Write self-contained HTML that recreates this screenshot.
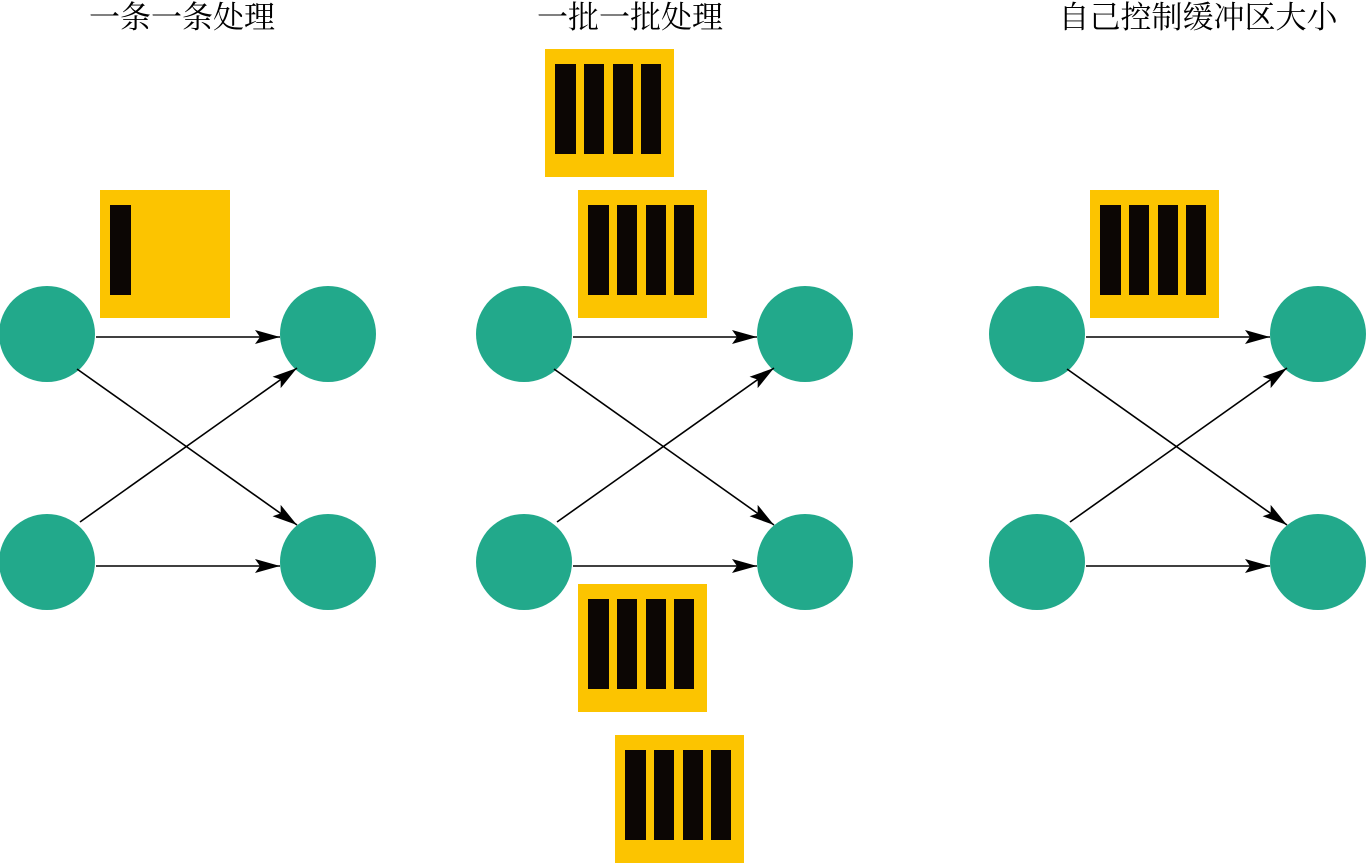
<!DOCTYPE html>
<html><head><meta charset="utf-8"><style>
html,body{margin:0;padding:0;background:#fff;}
svg{display:block;}
text{font-family:"Liberation Serif","Noto Serif CJK SC",serif;font-size:31px;fill:#000;}
</style></head><body>
<svg width="1366" height="864" viewBox="0 0 1366 864" xmlns="http://www.w3.org/2000/svg">
<defs>
<marker id="a" markerWidth="26" markerHeight="14" refX="25" refY="7" orient="auto" markerUnits="userSpaceOnUse">
<path d="M0,0 L25,7 L0,14 L5,7 Z" fill="#000"/>
</marker>
<g id="net">
<circle cx="47" cy="334" r="48" fill="#22a98b"/>
<circle cx="328" cy="334" r="48" fill="#22a98b"/>
<circle cx="47" cy="562" r="48" fill="#22a98b"/>
<circle cx="328" cy="562" r="48" fill="#22a98b"/>
<g stroke="#000" stroke-width="1.6" fill="none" marker-end="url(#a)">
<line x1="96" y1="337" x2="280" y2="337"/>
<line x1="96" y1="566" x2="280" y2="566"/>
<line x1="77" y1="369" x2="297" y2="525"/>
<line x1="80" y1="522" x2="297" y2="368"/>
</g>
</g>
<g id="box4">
<rect x="0" y="0" width="129" height="128" fill="#fcc400"/>
<rect x="10" y="15" width="21" height="90" fill="#0c0604"/>
<rect x="39" y="15" width="20" height="90" fill="#0c0604"/>
<rect x="68" y="15" width="20" height="90" fill="#0c0604"/>
<rect x="96" y="15" width="20" height="90" fill="#0c0604"/>
</g>
</defs>

<text x="182" y="28" text-anchor="middle">一条一条处理</text>
<text x="630" y="28" text-anchor="middle">一批一批处理</text>
<text x="1198" y="28" text-anchor="middle">自己控制缓冲区大小</text>

<use href="#net"/>
<use href="#net" transform="translate(477,0)"/>
<use href="#net" transform="translate(990,0)"/>

<rect x="100" y="190" width="130" height="128" fill="#fcc400"/>
<rect x="110" y="205" width="21" height="90" fill="#0c0604"/>

<use href="#box4" transform="translate(545,49)"/>
<use href="#box4" transform="translate(578,190)"/>
<use href="#box4" transform="translate(578,584)"/>
<use href="#box4" transform="translate(615,735)"/>
<use href="#box4" transform="translate(1090,190)"/>
</svg>
</body></html>
